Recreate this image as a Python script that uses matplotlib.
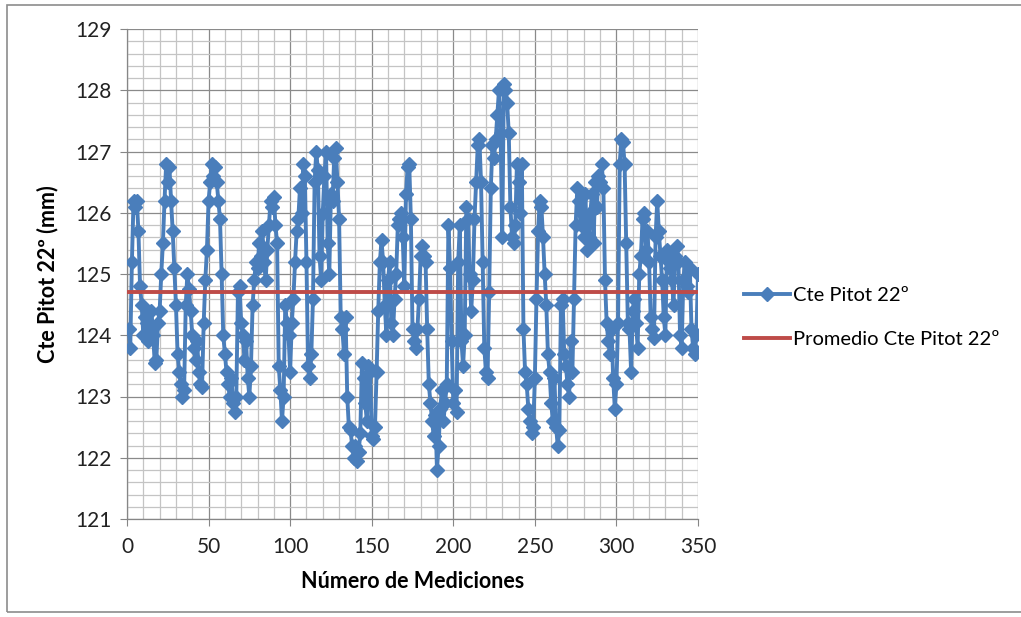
import matplotlib
matplotlib.use("Agg")
import matplotlib.pyplot as plt
from matplotlib.ticker import MultipleLocator
from matplotlib.patches import Rectangle
import numpy as np

# ---- data ----
cte_pitot = [
    124.1, 123.8, 125.2, 126.2, 126.1, 126.2, 125.7, 124.8, 124.5, 124.0,
    124.3, 124.2, 123.9, 124.1, 124.4, 124.0, 123.55, 123.6, 124.2, 124.4,
    125.0, 125.5, 126.2, 126.8, 126.5, 126.75, 126.2, 125.7, 125.1, 124.5,
    123.7, 123.4, 123.2, 123.0, 123.1, 124.5, 125.0, 124.75, 124.4, 124.0,
    123.8, 123.6, 123.9, 123.4, 123.2, 123.15, 124.2, 124.9, 125.4, 126.2,
    126.5, 126.8, 126.6, 126.75, 126.5, 126.2, 125.9, 125.0, 124.0, 123.7,
    123.4, 123.2, 123.0, 123.3, 122.9, 122.75, 123.0, 124.7, 124.8, 124.2,
    124.0, 123.6, 123.9, 123.3, 123.0, 123.5, 124.5, 124.9, 125.2, 125.1,
    125.5, 125.3, 125.7, 125.2, 124.9, 125.4, 125.8, 126.2, 126.1, 126.25,
    125.8, 125.5, 123.5, 123.1, 122.6, 123.0, 124.5, 124.2, 124.0, 123.4,
    124.2, 124.6, 125.2, 125.7, 125.9, 126.4, 126.0, 126.8, 126.6, 125.2,
    123.5, 123.3, 123.7, 124.6, 126.5, 127.0, 126.7, 125.3, 124.9, 126.0,
    126.6, 127.0, 125.5, 125.0, 126.3, 126.2, 126.9, 127.05, 126.5, 125.9,
    124.3, 124.1, 123.7, 124.3, 123.0, 122.5, 122.45, 122.2, 122.0, 122.2,
    121.95, 122.1, 122.4, 123.55, 123.3, 122.9, 122.6, 123.5, 123.4, 122.35,
    122.3, 122.5, 123.4, 124.4, 125.2, 125.55, 125.2, 124.5, 124.0, 124.9,
    125.2, 124.2, 124.0, 124.6, 125.0, 125.8, 125.9, 126.0, 125.6, 124.8,
    126.3, 126.75, 126.8, 125.9, 124.1, 123.9, 123.8, 124.1, 124.6, 125.3,
    125.45, 125.3, 125.2, 124.1, 123.2, 122.9, 122.6, 122.35, 122.7, 121.8,
    122.2, 122.8, 123.1, 122.6, 122.9, 123.2, 125.8, 125.1, 123.9, 122.9,
    123.1, 122.75, 125.2, 125.8, 123.9, 123.5, 124.0, 126.1, 125.9, 125.0,
    124.4, 124.9, 125.9, 126.5, 127.1, 127.2, 126.5, 125.2, 123.8, 123.4,
    123.3, 124.7, 126.4, 127.1, 126.9, 127.2, 127.6, 128.0, 127.3, 125.6,
    128.1, 128.0, 127.8, 127.3, 126.1, 125.6, 125.5, 125.8, 126.8, 126.5,
    126.0, 126.8, 124.1, 123.4, 123.2, 122.8, 122.6, 122.4, 122.5, 123.3,
    124.6, 125.7, 126.2, 126.1, 125.6, 125.0, 124.5, 123.7, 123.4, 122.9,
    122.6, 123.3, 122.5, 122.2, 122.45, 124.5, 124.6, 123.7, 123.5, 123.2,
    123.0, 123.9, 123.4, 124.6, 125.8, 126.4, 126.2, 125.8, 126.0, 125.6,
    126.3, 125.4, 125.6, 126.0, 126.3, 125.5, 126.5, 126.1, 126.6, 126.5,
    126.8, 126.4, 124.9, 124.2, 123.9, 123.7, 124.1, 123.3, 122.8, 123.2,
    124.2, 126.8, 127.2, 127.15, 126.8, 125.5, 124.2, 124.1, 123.4, 124.4,
    124.6, 124.2, 123.8, 125.0, 125.3, 125.9, 126.0, 125.4, 125.7, 125.2,
    124.3, 124.1, 123.95, 125.6, 126.2, 125.7, 125.3, 124.9, 124.3, 124.0,
    125.4, 125.2, 125.1, 124.9, 124.5, 125.3, 125.45, 125.2, 124.0, 123.8,
    124.9, 125.2, 124.8, 124.7, 125.1, 124.1, 123.8, 123.7, 124.0, 125.0,
]
mediciones = list(range(1, len(cte_pitot) + 1))
promedio = 124.71

serie_label = "Cte Pitot 22º"
promedio_label = "Promedio Cte Pitot 22º"
x_title = "Número de Mediciones"
y_title = "Cte Pitot 22º (mm)"
x_ticks = [0, 50, 100, 150, 200, 250, 300, 350]
y_ticks = [121, 122, 123, 124, 125, 126, 127, 128, 129]

plt.rcParams['font.family'] = ['Lato', 'DejaVu Sans']

fig = plt.figure(figsize=(10.21, 6.17), dpi=100)
ax = fig.add_axes([127/1021, 1 - 519/617, (698-127)/1021, (519-29)/617])

blue = '#4A7EBB'
red = '#BE4B48'

ax.plot(mediciones, cte_pitot, color=blue, lw=2.8, marker='D', ms=7.2,
        mfc=blue, mec=blue, label=serie_label, zorder=3)
ax.plot([mediciones[0] - 1, mediciones[-1]], [promedio, promedio], color=red, lw=2.8,
        label=promedio_label, zorder=4)

ax.set_xlim(0, 350)
ax.set_ylim(121, 129)
ax.set_xticks(x_ticks)
ax.set_yticks(y_ticks)
ax.xaxis.set_minor_locator(MultipleLocator(10))
ax.yaxis.set_minor_locator(MultipleLocator(0.2))
ax.grid(which='major', color='#8a8a8a', lw=0.9, zorder=0)
ax.grid(which='minor', color='#c4c4c4', lw=0.9, zorder=0)
ax.set_axisbelow(True)
for s in ['top', 'right']:
    ax.spines[s].set_visible(False)
for s in ['left', 'bottom']:
    ax.spines[s].set_color('#868686')
    ax.spines[s].set_linewidth(0.9)
ax.tick_params(which='major', length=5, color='#868686', labelsize=15, pad=6,
               labelcolor='#222222')
ax.tick_params(which='minor', length=0)
ax.tick_params(axis='x', pad=8)

ax.set_xlabel(x_title, fontsize=15.5, fontweight='bold', labelpad=10)
ax.set_ylabel(y_title, fontsize=15.5, fontweight='bold', labelpad=12)

leg = fig.legend(loc='upper left', bbox_to_anchor=(738/1021, 1 - 281/617),
                 frameon=False, fontsize=14.5, handlelength=2.3, handletextpad=0.15,
                 labelspacing=1.35, markerscale=1.0, borderaxespad=0, borderpad=0.3)

fig.add_artist(Rectangle((7/1021, 5/617), 1.1, (612-5)/617, transform=fig.transFigure,
                         fill=False, edgecolor='#8c8c8c', lw=1.2))

fig.savefig('out.png', dpi=100, facecolor='white')
